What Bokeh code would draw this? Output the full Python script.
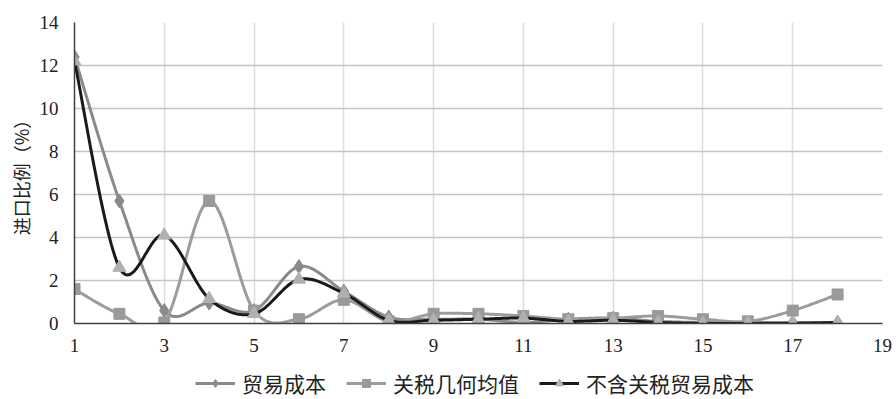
import numpy as np
from bokeh.plotting import figure
from bokeh.layouts import column
from bokeh.models import Range1d, FixedTicker, Legend, LegendItem
from bokeh.embed import file_html
from bokeh.resources import INLINE

x_vals = list(range(1, 19))
trade_cost = [12.4, 5.7, 0.6, 0.95, 0.6, 2.65, 1.5, 0.3, 0.2, 0.2, 0.05, 0.2, 0.25, 0.1, 0.05, 0.05, 0.05, 0.05]
tariff_geo = [1.6, 0.45, 0.05, 5.7, 0.6, 0.2, 1.1, 0.1, 0.45, 0.45, 0.35, 0.2, 0.25, 0.35, 0.2, 0.1, 0.6, 1.35]
no_tariff = [12.2, 2.6, 4.1, 1.15, 0.45, 2.05, 1.4, 0.15, 0.15, 0.2, 0.25, 0.1, 0.15, 0.05, 0.0, 0.0, 0.0, 0.05]
labels = ["贸易成本", "关税几何均值", "不含关税贸易成本"]
x_ticks = [1, 3, 5, 7, 9, 11, 13, 15, 17, 19]
y_ticks = [0, 2, 4, 6, 8, 10, 12, 14]

styles = [
    dict(line="#8a8a8a", marker="diamond", msize=14, mcolor="#8a8a8a"),
    dict(line="#9c9c9c", marker="square", msize=11, mcolor="#9a9a9a"),
    dict(line="#1a1a1a", marker="triangle", msize=13, mcolor="#b0b0b0"),
]

SERIF = "'Liberation Serif', serif"


def smooth(xs, ys, n=24):
    xs = np.asarray(xs, float)
    ys = np.asarray(ys, float)
    P = np.column_stack([xs, ys])
    m = len(P)
    out = []
    for i in range(m - 1):
        p0 = P[i - 1] if i > 0 else P[i]
        p1 = P[i]
        p2 = P[i + 1]
        p3 = P[i + 2] if i + 2 < m else P[i + 1]
        c1 = p1 + (p2 - p0) / 6.0
        c2 = p2 - (p3 - p1) / 6.0
        t = np.linspace(0, 1, n, endpoint=(i == m - 2))[:, None]
        seg = ((1 - t) ** 3) * p1 + 3 * ((1 - t) ** 2) * t * c1 + 3 * (1 - t) * t ** 2 * c2 + t ** 3 * p2
        out.append(seg)
    out = np.vstack(out)
    return out[:, 0], out[:, 1]


p = figure(width=896, height=363, output_backend="svg", toolbar_location=None,
           x_range=Range1d(1, 19), y_range=Range1d(0, 14),
           min_border_left=74, min_border_right=14, min_border_top=22, min_border_bottom=40)
p.outline_line_color = None
p.background_fill_color = "white"
p.border_fill_color = "white"

for ax in (p.xaxis[0], p.yaxis[0]):
    ax.axis_line_color = "#404040"
    ax.axis_line_width = 1.5
    ax.major_tick_line_color = None
    ax.minor_tick_line_color = None
    ax.major_label_text_font = SERIF
    ax.major_label_text_font_size = "19px"
    ax.major_label_text_color = "#222222"

p.xaxis.ticker = FixedTicker(ticks=x_ticks)
p.yaxis.ticker = FixedTicker(ticks=y_ticks)
p.xaxis.major_label_standoff = 9
p.yaxis.major_label_standoff = 10

p.yaxis.axis_label = "进口比例（%）"
p.yaxis.axis_label_text_font = "Noto Sans CJK SC"
p.yaxis.axis_label_text_font_style = "normal"
p.yaxis.axis_label_text_font_size = "18px"
p.yaxis.axis_label_text_color = "#222222"
p.yaxis.axis_label_standoff = 3

p.xgrid.grid_line_color = "#dcdcdc"
p.xgrid.grid_line_width = 1.5
p.ygrid.grid_line_color = "#c4c4c4"
p.ygrid.grid_line_width = 1.5

for ys, st in zip([trade_cost, tariff_geo, no_tariff], styles):
    sx, sy = smooth(x_vals, ys)
    p.line(sx, sy, line_color=st["line"], line_width=3)
    p.scatter(x_vals, ys, marker=st["marker"], size=st["msize"],
              fill_color=st["mcolor"], line_color=st["mcolor"])

# legend strip below the chart (placeholder renderers lie outside its visible range)
lg = figure(width=896, height=36, output_backend="svg", toolbar_location=None,
            x_range=Range1d(0, 1), y_range=Range1d(0, 1),
            min_border_left=0, min_border_right=0, min_border_top=0, min_border_bottom=0)
lg.axis.visible = False
lg.grid.visible = False
lg.outline_line_color = None
lg.background_fill_color = "white"
lg.border_fill_color = "white"

hidden_x = [5, 6]
hidden_y = [5, 6]
items = []
for lab, st in zip(labels, styles):
    lr = lg.line(hidden_x, hidden_y, line_color=st["line"], line_width=3)
    mr = lg.scatter(hidden_x, hidden_y, marker=st["marker"], size=st["msize"],
                    fill_color=st["mcolor"], line_color=st["mcolor"])
    items.append(LegendItem(label=lab, renderers=[lr, mr], index=0))

legend = Legend(items=items, orientation="horizontal", location=(121, 1))
legend.label_text_font = "Noto Sans CJK SC"
legend.label_text_font_size = "21px"
legend.label_text_color = "#222222"
legend.glyph_width = 40
legend.glyph_height = 20
legend.spacing = 20
legend.label_standoff = 7
legend.border_line_color = None
legend.background_fill_alpha = 0
legend.padding = 2
legend.margin = 0
lg.add_layout(legend)

open("out.html", "w").write(file_html(column(p, lg, spacing=0), INLINE))
